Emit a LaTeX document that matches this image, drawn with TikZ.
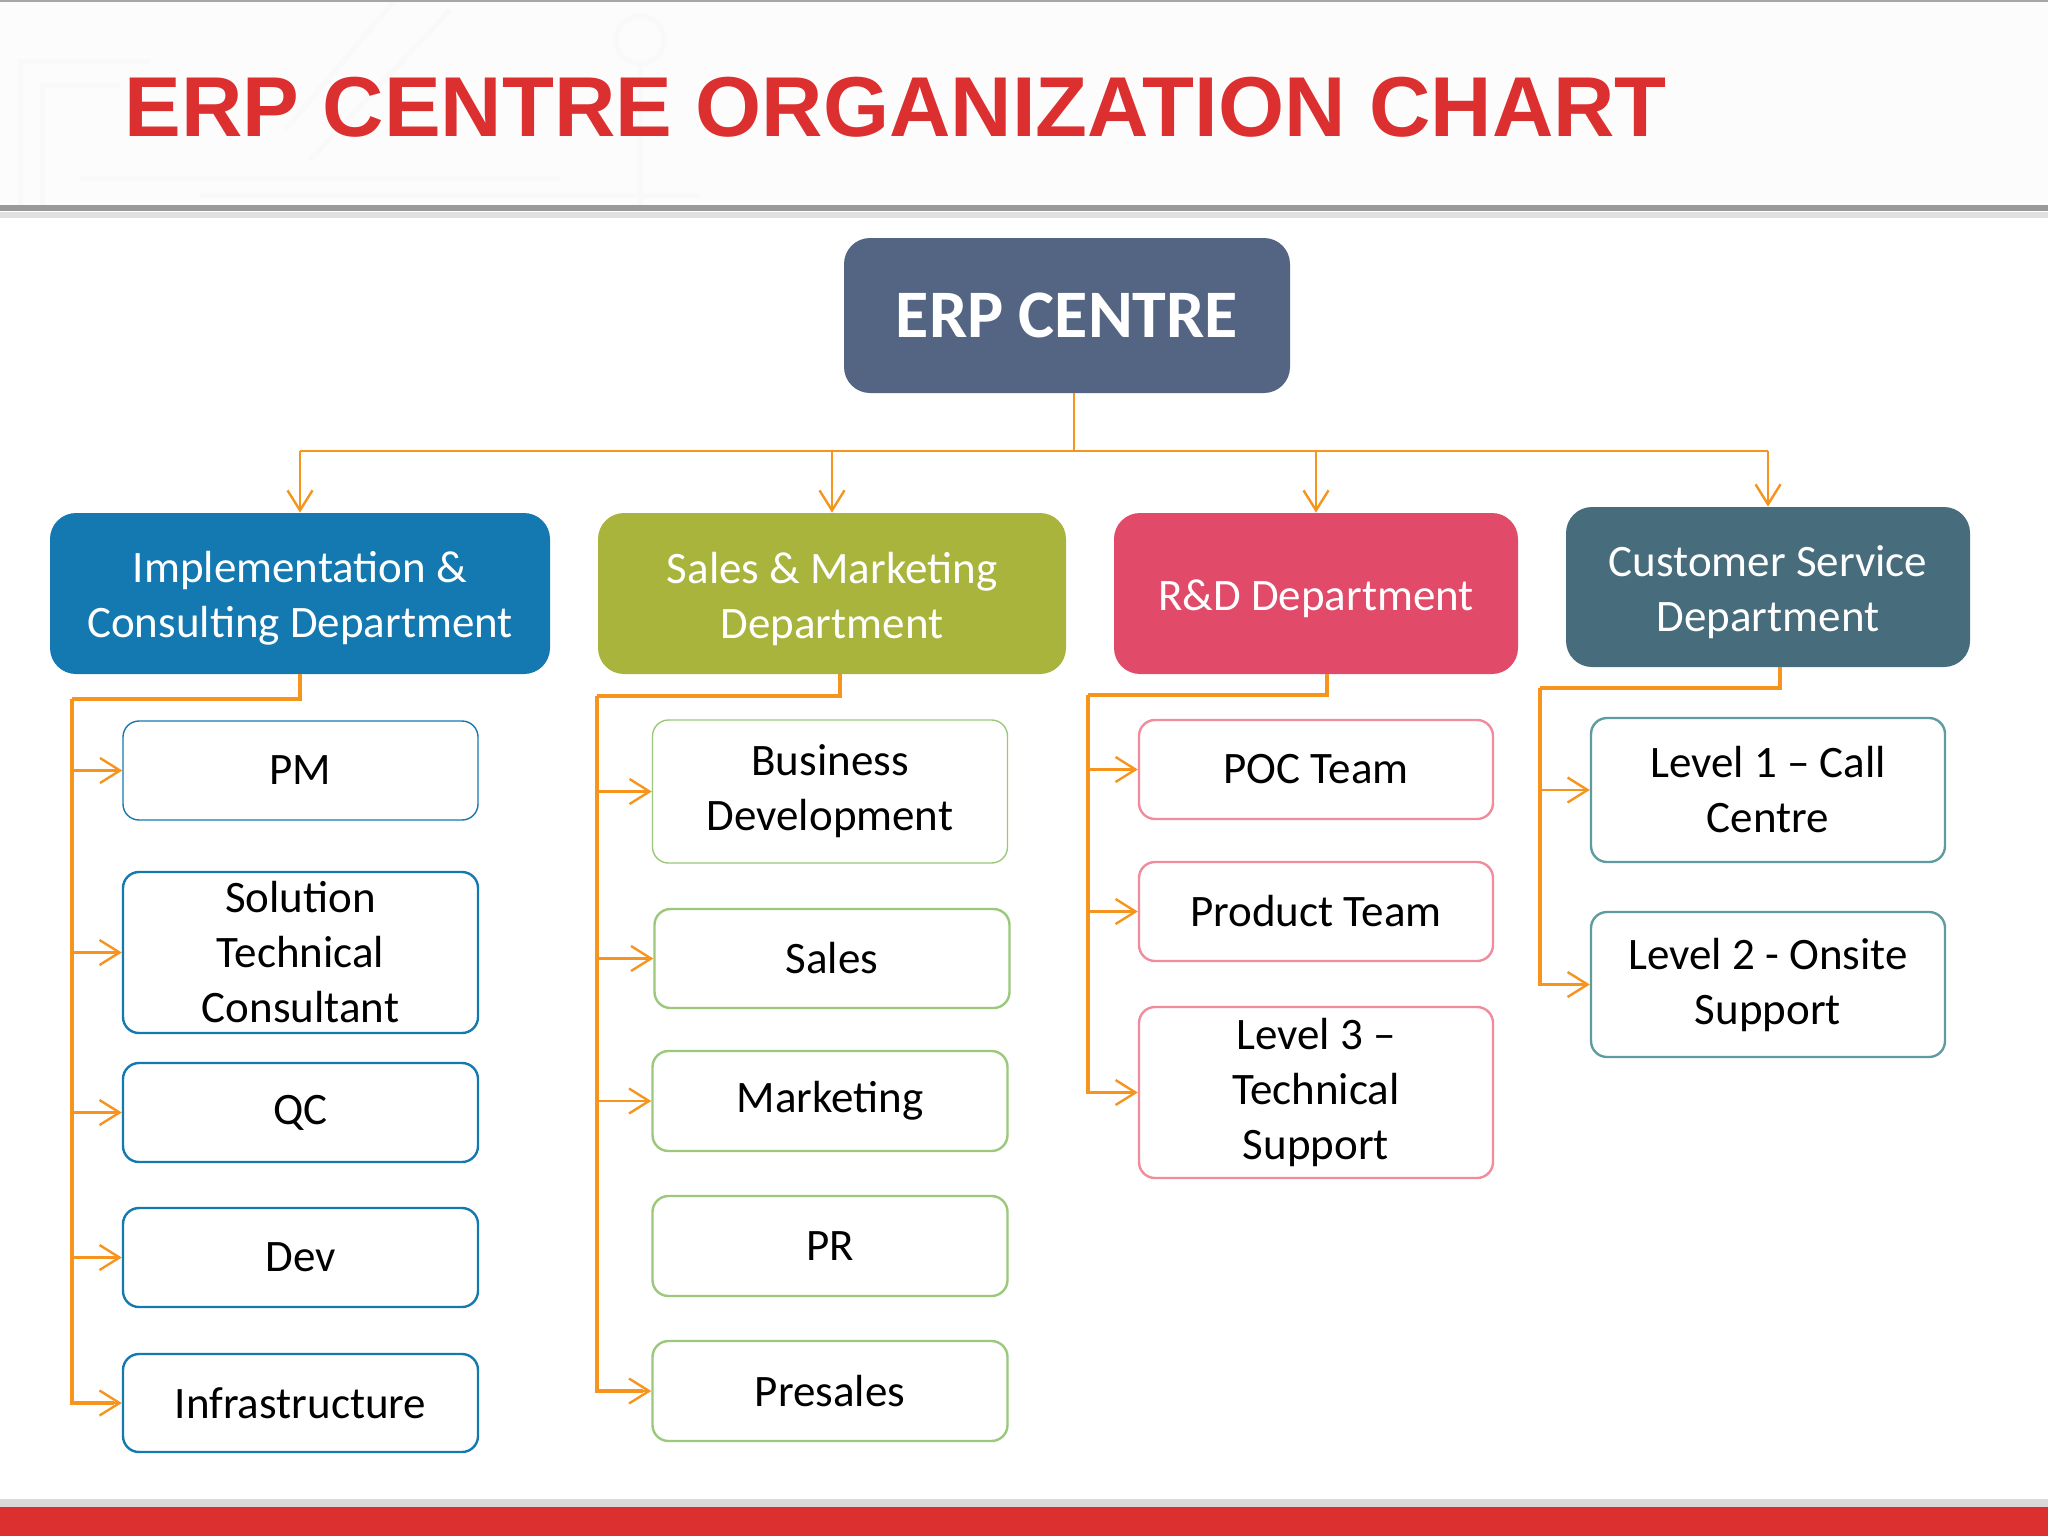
\documentclass[tikz,border=0pt]{standalone}
\usepackage{fontspec}
\setmainfont{Carlito}
\newfontfamily\titlefont{Liberation Sans}
\usetikzlibrary{arrows.meta,calc}
\definecolor{orng}{HTML}{F7941D}
\definecolor{titlered}{HTML}{DC2F2F}
\definecolor{erpfill}{HTML}{536582}
\definecolor{cblue}{HTML}{1479B0}
\definecolor{colive}{HTML}{A8B43C}
\definecolor{cpink}{HTML}{E14A68}
\definecolor{cteal}{HTML}{476C7B}
\definecolor{bgreen}{HTML}{9BC87A}
\definecolor{bpink}{HTML}{F08C9C}
\definecolor{bteal}{HTML}{5F9CA2}
\tikzset{
  deptbox/.style={rounded corners=13pt, inner sep=0pt},
  depttext/.style={text=white, align=center, inner sep=0pt,
    font=\fontsize{22.5}{27.5}\selectfont},
  kid/.style={rounded corners=8pt, fill=white, draw, line width=1.2pt, align=center,
    inner sep=0pt, text=black, font=\fontsize{22.5}{27.5}\selectfont},
  conn/.style={draw=orng, line width=1.2pt},
  elbow/.style={draw=orng, line width=1.6pt},
  arr/.style={draw=orng, line width=1.2pt, -{Straight Barb[length=10pt,width=12.5pt,line width=1.2pt]}},
  circuit/.style={draw=black!2.5, line width=2.5pt},
}
\begin{document}
\begin{tikzpicture}[x=0.5pt,y=-0.5pt]
\useasboundingbox (0,0) rectangle (2048,1536);
\fill[white] (0,0) rectangle (2048,1536);
% header with faint circuit pattern
\fill[black!1] (0,0) rectangle (2048,206);
\draw[circuit] (20,205) -- (20,62) -- (150,62);
\draw[circuit] (42,205) -- (42,86) -- (120,86);
\draw[circuit] (130,0) arc[start angle=180, end angle=330, radius=85];
\draw[circuit] (285,130) -- (395,0);
\draw[circuit] (310,160) -- (450,10);
\draw[circuit] (80,178) -- (560,178);
\draw[circuit] (200,195) -- (700,195);
\draw[circuit] (640,40) circle[radius=24];
\draw[circuit] (640,64) -- (640,205);
\draw[black!35, line width=1pt] (0,1) -- (2048,1);
\fill[black!12] (0,212) rectangle (2048,218);
\draw[black!40, line width=3pt] (0,208) -- (2048,208);
\node[anchor=base west, inner sep=0pt, text=titlered,
  font=\titlefont\bfseries\fontsize{42.5}{50}\selectfont] (title) at (124,136)
  {ERP CENTRE ORGANIZATION CHART};
% footer
\fill[black!15] (0,1499) rectangle (2048,1507);
\fill[titlered] (0,1507) rectangle (2048,1536);

% top node
\node[fill=erpfill, rounded corners=13pt, text=white, inner sep=0pt,
  minimum width=223pt, minimum height=77.5pt,
  font=\bfseries\fontsize{34}{38}\selectfont] (erp) at (1067,315.5) {ERP CENTRE};

% departments
\node[deptbox, fill=cblue, minimum width=250pt, minimum height=80.5pt] (d1) at (300,593.5) {};
\node[deptbox, fill=colive, minimum width=234pt, minimum height=80.5pt] (d2) at (832,593.5) {};
\node[deptbox, fill=cpink, minimum width=202pt, minimum height=80.5pt] (d3) at (1316,593.5) {};
\node[deptbox, fill=cteal, minimum width=202pt, minimum height=80pt] (d4) at (1768,587) {};
\node[depttext] (t1) at ([yshift=-2.5pt]d1.center) {Implementation \&\\Consulting Department};
\node[depttext] (t2) at ([yshift=-2.5pt]d2.center) {Sales \& Marketing\\Department};
\node[depttext] (t3) at ([yshift=-2.5pt]d3.center) {R\&D Department};
\node[depttext] (t4) at ([yshift=-2.5pt]d4.center) {Customer Service\\Department};

% column 1
\node[kid, draw=cblue, line width=0.7pt, minimum width=177.5pt, minimum height=49.5pt] (pm) at (300.5,770.5) {PM};
\node[kid, draw=cblue, minimum width=177.5pt, minimum height=80.5pt] (stc) at (300.5,952.5) {Solution\\Technical\\Consultant};
\node[kid, draw=cblue, minimum width=177.5pt, minimum height=49.5pt] (qc) at (300.5,1112.5) {QC};
\node[kid, draw=cblue, minimum width=177.5pt, minimum height=49.5pt] (dev) at (300.5,1257.5) {Dev};
\node[kid, draw=cblue, minimum width=177.5pt, minimum height=49pt] (infra) at (300.5,1403) {Infrastructure};

% column 2
\node[kid, draw=bgreen, line width=0.7pt, minimum width=177.5pt, minimum height=71.5pt] (bd) at (830,791.5) {Business\\Development};
\node[kid, draw=bgreen, minimum width=177.5pt, minimum height=49.5pt] (sales) at (832,958.5) {Sales};
\node[kid, draw=bgreen, minimum width=177.5pt, minimum height=50pt] (mkt) at (830,1101) {Marketing};
\node[kid, draw=bgreen, minimum width=177.5pt, minimum height=50pt] (pr) at (830,1246) {PR};
\node[kid, draw=bgreen, minimum width=177.5pt, minimum height=50pt] (pre) at (830,1391) {Presales};

% column 3
\node[kid, draw=bpink, minimum width=177pt, minimum height=49.5pt] (poc) at (1316,769.5) {POC Team};
\node[kid, draw=bpink, minimum width=177pt, minimum height=49.5pt] (prod) at (1316,911.5) {Product Team};
\node[kid, draw=bpink, minimum width=177pt, minimum height=85.5pt] (l3) at (1316,1092.5) {Level 3 –\\Technical\\Support};

% column 4
\node[kid, draw=bteal, minimum width=177pt, minimum height=72pt] (l1) at (1768,790) {Level 1 – Call\\Centre};
\node[kid, draw=bteal, minimum width=177pt, minimum height=72.5pt] (l2) at (1768,984.5) {Level 2 - Onsite\\Support};

% top connectors
\coordinate (bus) at (0,451);
\draw[conn, line width=1pt] ([xshift=3.5pt]erp.south) -- ([xshift=3.5pt]erp.south |- bus);
\draw[conn, line width=1pt] (d1.north |- bus) -- (d4.north |- bus);
\draw[arr] (d1.north |- bus) -- (d1.north);
\draw[arr] (d2.north |- bus) -- (d2.north);
\draw[arr] (d3.north |- bus) -- (d3.north);
\draw[arr] (d4.north |- bus) -- (d4.north);

% column 1 connectors
\coordinate (s1) at (72,699);
\draw[elbow, line width=2pt] (d1.south) |- (s1);
\draw[elbow] (s1) |- ($(infra.west)+(-8,0)$);
\foreach \k in {pm,stc,qc,dev,infra} \draw[arr] (\k.west -| s1) -- (\k.west);

% column 2 connectors
\coordinate (s2) at (597,696);
\draw[elbow, line width=2pt] ([xshift=4pt]d2.south) |- (s2);
\draw[elbow] (s2) |- ($(pre.west)+(-8,0)$);
\foreach \k in {bd,sales,mkt,pre} \draw[arr] (\k.west -| s2) -- (\k.west);

% column 3 connectors
\coordinate (s3) at (1088,695);
\draw[elbow] ([xshift=5.5pt]d3.south) |- (s3);
\draw[elbow] (s3) |- ($(l3.west)+(-8,0)$);
\foreach \k in {poc,prod,l3} \draw[arr] (\k.west -| s3) -- (\k.west);

% column 4 connectors
\coordinate (s4) at (1540,688);
\draw[elbow] ([xshift=6pt]d4.south) |- (s4);
\draw[elbow] (s4) |- ($(l2.west)+(-8,0)$);
\foreach \k in {l1,l2} \draw[arr] (\k.west -| s4) -- (\k.west);
\end{tikzpicture}
\end{document}
